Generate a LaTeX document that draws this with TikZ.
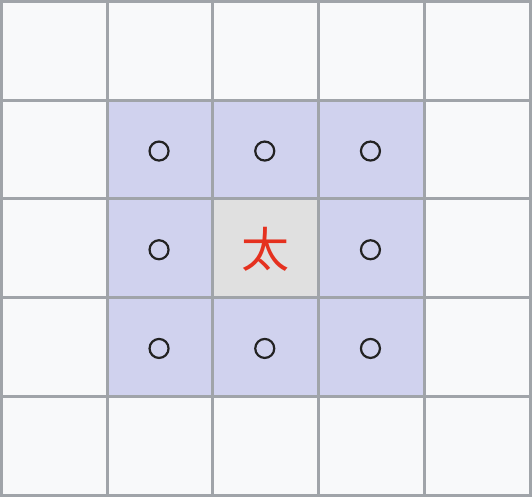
\documentclass[tikz,border=0pt]{standalone}
\usepackage{fontspec}
\newfontfamily\cjk{Noto Sans CJK SC}
\usetikzlibrary{positioning}
\definecolor{bg}{HTML}{F8F9FA}
\definecolor{nb}{HTML}{D0D2EE}
\definecolor{mid}{HTML}{E0E0E0}
\definecolor{gridc}{HTML}{A0A4A9}
\definecolor{red1}{HTML}{E5311F}
\definecolor{ink}{HTML}{222222}

\tikzset{
	cell/.style={shape=rectangle, draw=gridc, line width=3pt, fill=bg, minimum width=105.7pt, minimum height=98.7pt, inner sep=0pt, outer sep=0pt},
	near/.style={cell, fill=nb},
	ring/.style={shape=circle, draw=ink, line width=2.2pt, minimum size=19pt, inner sep=0pt}
}

\begin{document}
\begin{tikzpicture}[x=1pt, y=-1pt]
	\useasboundingbox (0,0) rectangle (532,498);
	
	% outer cells
	\foreach \i in {0,...,4}{
		\foreach \j in {0,...,4}{
			\node[cell] (c\i\j) at ({1.5+105.7*(\i+0.5)}, {1.5+98.7*(\j+0.5)}) {};
		};
	};
	
	% neighbour cells
	\foreach \i/\j in {1/1, 2/1, 3/1, 1/2, 3/2, 1/3, 2/3, 3/3}{
		\node[near] (n\i\j) at (c\i\j) {};
		\node[ring] (o\i\j) at ([xshift=-1pt, yshift=-1.5pt]c\i\j) {};
	};
	
	% centre cell
	\node[cell, fill=mid] (m) at (c22) {};
	\node[text=red1, font=\cjk\fontsize{48}{48}\selectfont, inner sep=0pt] (tai) at ([yshift=-1pt]m) {太};
	
\end{tikzpicture}
\end{document}
